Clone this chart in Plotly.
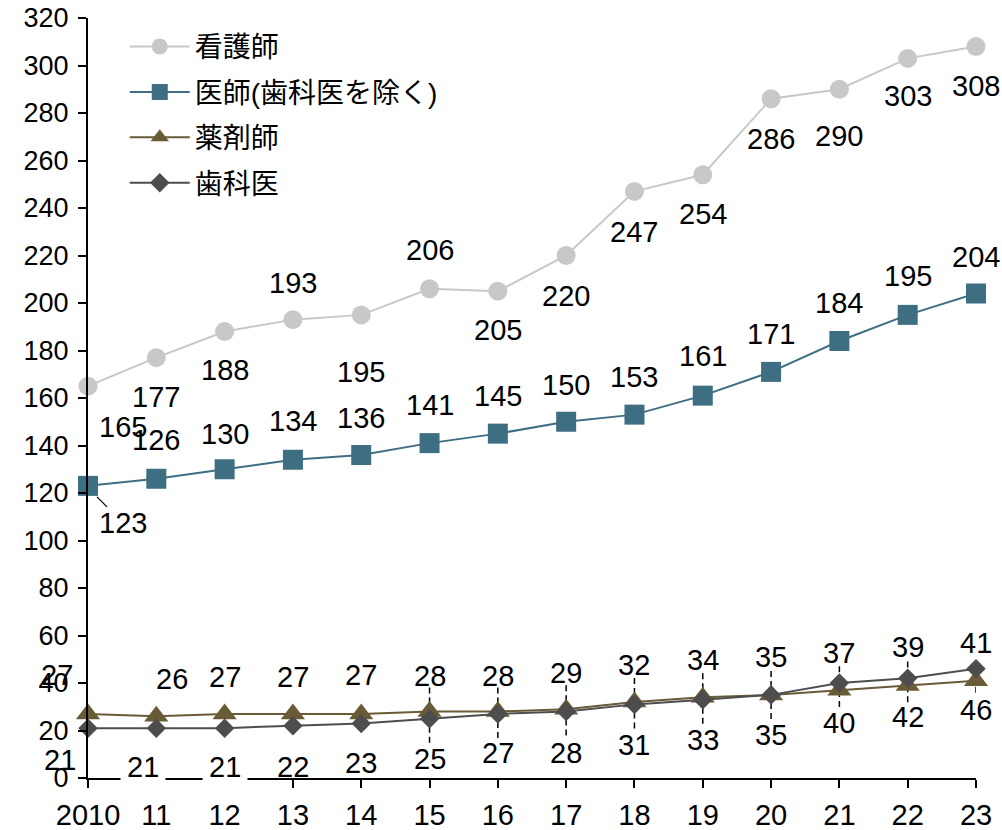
import plotly.graph_objects as go

# ---- data ----
years = ["2010", "11", "12", "13", "14", "15", "16", "17", "18", "19", "20", "21", "22", "23"]
nurses = [165, 177, 188, 193, 195, 206, 205, 220, 247, 254, 286, 290, 303, 308]
doctors = [123, 126, 130, 134, 136, 141, 145, 150, 153, 161, 171, 184, 195, 204]
pharmacists = [27, 26, 27, 27, 27, 28, 28, 29, 32, 34, 35, 37, 39, 41]
dentists = [21, 21, 21, 22, 23, 25, 27, 28, 31, 33, 35, 40, 42, 46]
names = ["看護師", "医師(歯科医を除く)", "薬剤師", "歯科医"]

# ---- style ----
FONT = "Liberation Sans, Arial, Noto Sans CJK JP, sans-serif"
FS = 29
colors = ["#C8C8C8", "#3E6E82", "#6A5B37", "#4D4D4D"]
symbols = ["circle", "square", "triangle-up", "diamond"]
msizes = [19, 20, 21, 15]

# label pixel offsets (dx right, dy up)
nurse_dx = [35, 0, 0, 0, 0, 0, 0, 0, 0, 0, 0, 0, 0, 0]
nurse_dy = [-41, -39, -38, 37, -57, 39, -39, -40, -41, -39, -40, -47, -38, -39]
doctor_dx = [35, 0, 0, 0, 0, 0, 0, 0, 0, 0, 0, 0, 0, 0]
doctor_dy = [-37, 39, 35, 39, 37, 38, 38, 37, 38, 40, 38, 38, 39, 37]
pharm_dx = [-31, 16, 0, 0, 0, 0, 0, 0, 0, 0, 0, 0, 0, 0]
pharm_dy = [39, 37, 37, 37, 39, 36, 36, 36, 37, 37, 38, 37, 38, 38]
dent_dx = [-28, -13, 0, 0, 0, 0, 0, 0, 0, 0, 0, 0, 0, 0]
dent_dy = [-32, -39, -39, -41, -40, -40, -39, -41, -41, -40, -40, -40, -39, -41]
dent_bg = [None, "white", "white"] + [None] * 11

series = [nurses, doctors, pharmacists, dentists]
xs = list(range(len(years)))

fig = go.Figure()
for k, vals in enumerate(series):
    fig.add_trace(go.Scatter(
        x=xs, y=vals, name=names[k], mode="lines+markers",
        line=dict(color=colors[k], width=2),
        marker=dict(symbol=symbols[k], size=msizes[k], color=colors[k]),
        cliponaxis=False, legendgroup=str(k),
    ))

annotations = []
def add_labels(vals, dxs, dys, bgs=None):
    for i, v in enumerate(vals):
        a = dict(x=i, y=v, xref="x", yref="y", text=str(v), showarrow=False,
                 xshift=dxs[i], yshift=dys[i],
                 font=dict(family=FONT, size=FS, color="black"))
        if bgs and bgs[i]:
            a.update(bgcolor=bgs[i], borderpad=6)
        annotations.append(a)

add_labels(nurses, nurse_dx, nurse_dy)
add_labels(doctors, doctor_dx, doctor_dy)
add_labels(pharmacists, pharm_dx, pharm_dy)
add_labels(dentists, dent_dx, dent_dy, dent_bg)

shapes = []
dash = "6px,4px"
for i in range(5, 13):
    shapes.append(dict(type="line", xref="x", yref="y", xsizemode="pixel", ysizemode="pixel",
                       xanchor=i, yanchor=pharmacists[i], x0=0, x1=0, y0=8, y1=25,
                       line=dict(color="black", width=1.5, dash=dash), layer="below"))
for i in range(5, 14):
    shapes.append(dict(type="line", xref="x", yref="y", xsizemode="pixel", ysizemode="pixel",
                       xanchor=i, yanchor=dentists[i], x0=0, x1=0, y0=-8, y1=-27,
                       line=dict(color="black", width=1.5, dash=dash), layer="below"))
shapes.append(dict(type="line", xref="x", yref="y", xsizemode="pixel", ysizemode="pixel",
                   xanchor=0, yanchor=doctors[0], x0=9, x1=19, y0=-11, y1=-21,
                   line=dict(color="black", width=1.2), layer="below"))

fig.update_layout(
    width=1002, height=830,
    margin=dict(l=88, r=26, t=18, b=52, autoexpand=False),
    paper_bgcolor="white", plot_bgcolor="white",
    font=dict(family=FONT, size=FS, color="black"),
    showlegend=True,
    legend=dict(x=0.0414, y=0.995, xanchor="left", yanchor="top",
                bgcolor="rgba(0,0,0,0)", font=dict(family=FONT, size=28),
                itemwidth=60, tracegroupgap=6, traceorder="grouped"),
    annotations=annotations, shapes=shapes,
)
fig.update_xaxes(range=[0, 13], tickvals=xs, ticktext=years, showgrid=False, zeroline=False,
                 showline=True, linecolor="black", linewidth=2, automargin=False,
                 ticks="outside", ticklen=8, tickwidth=2, tickcolor="black",
                 ticklabelstandoff=2, tickfont=dict(family=FONT, size=29))
fig.update_yaxes(range=[0, 320], dtick=20, tick0=0, showgrid=False, zeroline=False,
                 showline=True, linecolor="black", linewidth=2, automargin=False,
                 ticks="outside", ticklen=8, tickwidth=2, tickcolor="black",
                 ticklabelstandoff=4, tickfont=dict(family=FONT, size=27))

fig.write_html("out.html", config={"displayModeBar": False},
               post_script="document.body.style.margin='0';")
